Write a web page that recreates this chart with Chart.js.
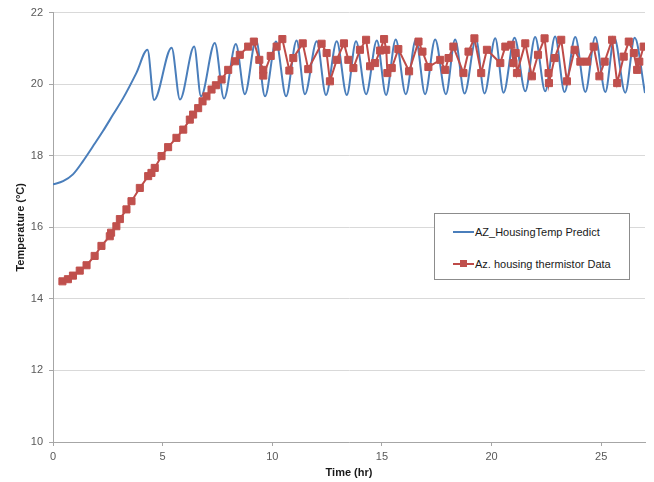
<!DOCTYPE html>
<html>
<head>
<meta charset="utf-8">
<script src="https://cdn.jsdelivr.net/npm/chart.js@4.4.1/dist/chart.umd.min.js"></script>
<style>
  html, body { margin: 0; padding: 0; background: #fff; }
  #wrap { position: relative; width: 654px; height: 482px; }
  #legend {
    position: absolute; left: 434px; top: 213px; width: 196px; height: 67px;
    border: 1px solid #8c8c8c; background: #fff; box-sizing: border-box;
    font: 11px "Liberation Sans", Arial, sans-serif; color: #1a1a1a;
  }
  .item { position: absolute; left: 18px; height: 14px; line-height: 14px; white-space: nowrap; }
  .sw { position: absolute; left: 0; top: 6px; width: 21px; height: 2px; }
  .mk { position: absolute; left: 7px; top: 3px; width: 7px; height: 7px; background: #c0504d; }
  .lbl { position: absolute; left: 22px; top: 0; }
</style>
</head>
<body>
<div id="wrap">
  <canvas id="grafico" width="654" height="482"></canvas>
  <div id="legend">
    <div class="item" style="top:11px"><span class="sw" style="background:#4a7ebb"></span><span class="lbl">AZ_HousingTemp Predict</span></div>
    <div class="item" style="top:43px"><span class="sw" style="background:#be4b48"></span><span class="mk"></span><span class="lbl">Az. housing thermistor Data</span></div>
  </div>
</div>
<script>
// Modelo (AZ_HousingTemp Predict): horas y temperatura
const tiempoModelo = [0, 0.46, 0.91, 1.37, 1.83, 2.28, 2.74, 3.2, 3.8, 4.31, 4.61, 5.41, 5.79, 6.44, 6.75, 7.38, 7.8, 8.34, 8.75, 9.26, 9.67, 10.17, 10.63, 11.11, 11.49, 12.03, 12.45, 12.94, 13.4, 13.82, 14.28, 14.77, 15.19, 15.63, 16.09, 16.55, 16.97, 17.43, 17.92, 18.34, 18.77, 19.29, 19.68, 20.17, 20.55, 21.05, 21.54, 21.99, 22.45, 22.9, 23.33, 23.82, 24.28, 24.73, 25.19, 25.6, 26.1, 26.53, 27.0];
const tempModelo = [17.2, 17.29, 17.48, 17.85, 18.27, 18.69, 19.15, 19.61, 20.31, 20.96, 19.56, 21.02, 19.57, 21.05, 19.66, 21.15, 19.6, 21.12, 19.72, 21.24, 19.66, 21.19, 19.66, 21.22, 19.72, 21.2, 19.7, 21.2, 19.7, 21.2, 19.72, 21.22, 19.7, 21.25, 19.72, 21.25, 19.72, 21.25, 19.72, 21.25, 19.74, 21.26, 19.74, 21.28, 19.76, 21.3, 19.8, 21.32, 19.8, 21.33, 19.78, 21.32, 19.78, 21.32, 19.78, 21.3, 19.76, 21.3, 19.75];

// Datos del termistor (Az. housing thermistor Data)
const tiempoDatos = [0.43, 0.68, 0.91, 1.22, 1.53, 1.9, 2.21, 2.59, 2.65, 2.89, 3.05, 3.35, 3.58, 3.96, 4.34, 4.49, 4.64, 4.95, 5.25, 5.63, 5.94, 6.24, 6.39, 6.62, 6.82, 7.0, 7.23, 7.43, 7.69, 7.99, 8.3, 8.52, 8.9, 9.16, 9.41, 9.59, 9.59, 9.93, 10.2, 10.46, 10.78, 10.96, 11.39, 11.64, 12.25, 12.48, 12.63, 12.94, 13.27, 13.47, 13.7, 14.0, 14.28, 14.46, 14.69, 14.92, 15.1, 15.2, 15.25, 15.45, 15.75, 16.24, 16.67, 16.85, 17.12, 17.66, 17.89, 18.04, 18.26, 18.72, 18.95, 19.22, 19.53, 19.79, 20.4, 20.63, 20.9, 21.0, 21.1, 21.16, 21.54, 21.84, 22.12, 22.42, 22.6, 22.62, 22.88, 23.18, 23.44, 23.79, 24.05, 24.36, 24.66, 24.92, 25.16, 25.5, 25.73, 26.03, 26.26, 26.49, 26.64, 26.74, 26.94];
const tempDatos = [14.49, 14.55, 14.65, 14.79, 14.94, 15.2, 15.48, 15.75, 15.85, 16.03, 16.23, 16.5, 16.73, 17.1, 17.43, 17.52, 17.66, 17.99, 18.24, 18.5, 18.73, 19.01, 19.15, 19.33, 19.52, 19.66, 19.85, 19.97, 20.13, 20.4, 20.64, 20.82, 21.05, 21.19, 20.68, 20.4, 20.24, 20.79, 21.05, 21.26, 20.38, 20.73, 21.14, 20.42, 21.13, 20.87, 20.08, 20.68, 21.14, 20.68, 20.45, 20.96, 21.24, 20.5, 20.59, 20.94, 21.26, 20.96, 20.31, 20.45, 20.98, 20.36, 21.19, 20.91, 20.48, 20.68, 20.4, 20.73, 21.05, 20.31, 20.91, 21.28, 20.31, 20.96, 20.59, 21.05, 21.1, 20.59, 20.87, 20.31, 21.14, 20.22, 20.82, 21.28, 20.31, 20.03, 20.73, 21.24, 20.08, 20.96, 20.63, 20.63, 21.05, 20.22, 20.63, 21.24, 20.03, 20.77, 21.19, 20.87, 20.4, 20.63, 21.05];

const ticksX = [0, 5, 10, 15, 20, 25];
const ticksY = [10, 12, 14, 16, 18, 20, 22];

const aPuntos = (xs, ys) => xs.map((x, i) => ({ x, y: ys[i] }));

const fuente = { family: '"Liberation Sans", Arial, sans-serif', size: 11 };
const fuenteTitulo = { family: '"Liberation Sans", Arial, sans-serif', size: 11, weight: 'bold' };

new Chart(document.getElementById('grafico'), {
  type: 'scatter',
  data: {
    datasets: [
      {
        label: 'AZ_HousingTemp Predict',
        data: aPuntos(tiempoModelo, tempModelo),
        showLine: true,
        borderColor: '#4a7ebb',
        borderWidth: 2,
        pointRadius: 0,
        cubicInterpolationMode: 'monotone',
        order: 2
      },
      {
        label: 'Az. housing thermistor Data',
        data: aPuntos(tiempoDatos, tempDatos),
        showLine: true,
        borderColor: '#be4b48',
        borderWidth: 2,
        pointStyle: 'rect',
        pointRadius: 5,
        pointBackgroundColor: '#c0504d',
        pointBorderColor: '#c0504d',
        pointBorderWidth: 1,
        order: 1
      }
    ]
  },
  options: {
    responsive: false,
    animation: false,
    layout: { padding: { top: 11, right: 9, left: 0, bottom: 0 } },
    plugins: { legend: { display: false }, tooltip: { enabled: false } },
    scales: {
      x: {
        type: 'linear',
        min: 0,
        max: 27,
        afterBuildTicks: (s) => { s.ticks = ticksX.map(v => ({ value: v })); },
        afterFit: (s) => { s.height = 40; },
        grid: { drawOnChartArea: false, drawTicks: true, tickLength: 4, color: '#a6a6a6' },
        border: { color: '#a6a6a6' },
        ticks: { font: fuente, color: '#595959', padding: 4, maxRotation: 0 },
        title: { display: true, text: 'Time (hr)', font: fuenteTitulo, color: '#1a1a1a', padding: { top: 0, bottom: 2 } }
      },
      y: {
        min: 10,
        max: 22,
        afterBuildTicks: (s) => { s.ticks = ticksY.map(v => ({ value: v })); },
        afterFit: (s) => { s.width = 53; },
        grid: { color: '#d9d9d9', tickLength: 4, tickColor: '#a6a6a6' },
        border: { color: '#a6a6a6' },
        ticks: { font: fuente, color: '#595959', padding: 6 },
        title: { display: true, text: 'Temperature (°C)', font: fuenteTitulo, color: '#1a1a1a', padding: { top: 14, bottom: 0 } }
      }
    }
  }
});
</script>
</body>
</html>
